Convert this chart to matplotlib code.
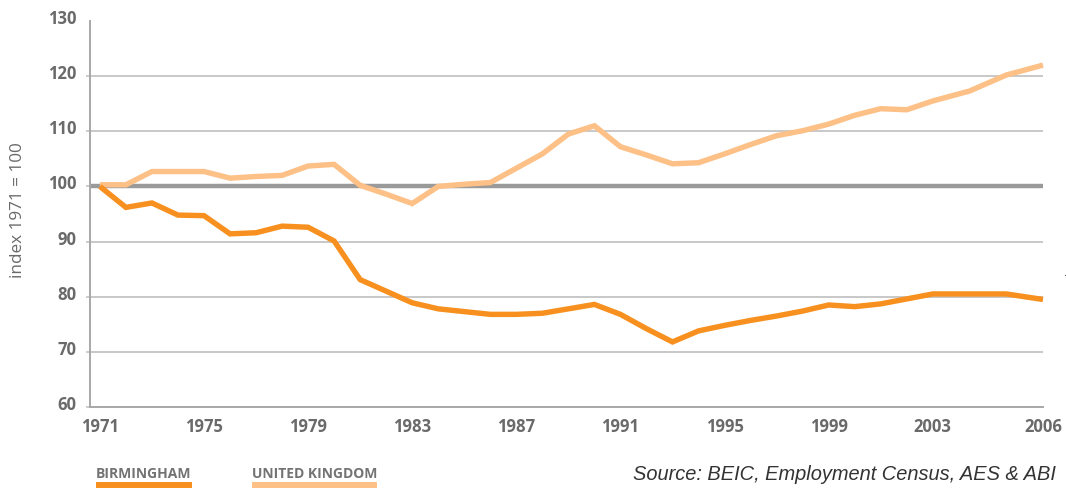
import matplotlib
matplotlib.use("Agg")
import matplotlib.pyplot as plt
import numpy as np
from matplotlib.transforms import ScaledTranslation
from matplotlib.lines import Line2D

# ---------------- data ----------------
years = list(range(1971, 2007))
birmingham = [100.0, 96.2, 97.0, 94.8, 94.7, 91.4, 91.6, 92.8, 92.6, 90.1,
              83.1, 81.0, 78.9, 77.8, 77.3, 76.8, 76.8, 77.0, 77.8, 78.6,
              76.8, 74.2, 71.8, 73.8, 74.8, 75.7, 76.5, 77.4, 78.5, 78.2,
              78.7, 79.6, 80.5, 80.5, 80.5, 79.5]
united_kingdom = [100.3, 100.3, 102.7, 102.7, 102.7, 101.5, 101.8, 102.0, 103.7, 104.0,
                  100.2, 98.6, 96.9, 100.0, 100.4, 100.7, 103.3, 105.9, 109.5, 111.0,
                  107.2, 105.7, 104.1, 104.3, 105.9, 107.6, 109.2, 110.1, 111.3, 112.9,
                  114.1, 113.9, 115.5, 117.3, 120.2, 122.0]
series_names = ["BIRMINGHAM", "UNITED KINGDOM"]
y_ticks = [60, 70, 80, 90, 100, 110, 120, 130]
x_tick_years = [1971, 1975, 1979, 1983, 1987, 1991, 1995, 1999, 2003, 2006]
x_tick_labels = [str(y) for y in x_tick_years]
baseline = 100
y_label = "index 1971 = 100"
source_text = "Source: BEIC, Employment Census, AES & ABI"

# ---------------- style ----------------
C_BHAM = "#F7901E"
C_UK = "#FDC086"
C_GRID = "#c4c4c4"
C_BASE = "#9a9a9a"
C_TEXT = "#6a6a6a"
FONT = ["Open Sans", "DejaVu Sans"]
plt.rcParams["font.family"] = FONT

W, H, DPI = 1066, 488, 100
fig = plt.figure(figsize=(W / DPI, H / DPI), dpi=DPI)
ax = fig.add_axes([90 / W, 81 / H, 953 / W, 386 / H])

# the last interval (2003-2006) is drawn wider in the original chart
STRETCH_START = 2003
STRETCH = 36.7 / 26.0


def fwd(x):
    x = np.asarray(x, dtype=float)
    return np.where(x <= STRETCH_START, x, STRETCH_START + (x - STRETCH_START) * STRETCH)


def inv(x):
    x = np.asarray(x, dtype=float)
    return np.where(x <= STRETCH_START, x, STRETCH_START + (x - STRETCH_START) / STRETCH)


ax.set_xscale("function", functions=(fwd, inv))

lw = 3.9
ax.plot(years, united_kingdom, color=C_UK, lw=lw, solid_joinstyle="miter",
        solid_capstyle="butt", clip_on=False, zorder=3)
ax.plot(years, birmingham, color=C_BHAM, lw=lw, solid_joinstyle="miter",
        solid_capstyle="butt", clip_on=False, zorder=4)

ax.set_xlim(1970.62, 2006.0)
ax.set_ylim(y_ticks[0], y_ticks[-1])

ax.set_yticks(y_ticks)
ax.set_yticklabels([str(t) for t in y_ticks])
ax.set_xticks(x_tick_years)
ax.set_xticklabels(x_tick_labels)
ax.xaxis.set_minor_locator(matplotlib.ticker.NullLocator())

ax.grid(axis="y", color=C_GRID, lw=1.3, zorder=1)
ax.grid(axis="x", visible=False)
ax.set_axisbelow(True)
for t, gl in zip(ax.get_yticks(), ax.get_ygridlines()):
    if t == baseline:
        gl.set_color(C_BASE)
        gl.set_linewidth(3.2)
    if t == y_ticks[-1]:
        gl.set_visible(False)

for s in ["top", "right"]:
    ax.spines[s].set_visible(False)
for s in ["left", "bottom"]:
    ax.spines[s].set_color("#a8a8a8")
    ax.spines[s].set_linewidth(1.4)

ax.tick_params(axis="y", length=3, width=1.2, color=C_GRID, pad=7,
               labelsize=12, labelcolor=C_TEXT)
ax.tick_params(axis="x", length=0, pad=8, labelsize=12, labelcolor=C_TEXT)
for lab in ax.get_yticklabels() + ax.get_xticklabels():
    lab.set_fontweight("bold")
ax.yaxis.get_major_ticks()[-1].tick1line.set_visible(False)

up = ScaledTranslation(0, 4 / DPI, fig.dpi_scale_trans)
for lab in ax.get_yticklabels():
    lab.set_transform(lab.get_transform() + up)

fig.text(18 / W, 1 - 210 / H, y_label, rotation=90, ha="center", va="center",
         fontsize=12.3, color=C_TEXT)

# legend
fig.canvas.draw()
renderer = fig.canvas.get_renderer()
leg_x = [96, 252]
for name, col, x0 in zip(series_names, [C_BHAM, C_UK], leg_x):
    t = fig.text(x0 / W, 10 / H, name, ha="left", va="baseline", fontsize=10,
                 fontweight="bold", color="#737373")
    bb = t.get_window_extent(renderer)
    fig.add_artist(Line2D([bb.x0, bb.x1], [3, 3], transform=None,
                          color=col, lw=4.3, solid_capstyle="butt"))

fig.text(1056 / W, 8 / H, source_text, ha="right", va="baseline", fontsize=14.4,
         style="italic", color="#333333", family=["Liberation Sans", "DejaVu Sans"])
fig.text(1065 / W, 1 - 276 / H, ".", ha="center", va="baseline", fontsize=8,
         color="#444444")

fig.savefig("out.png", dpi=DPI)
